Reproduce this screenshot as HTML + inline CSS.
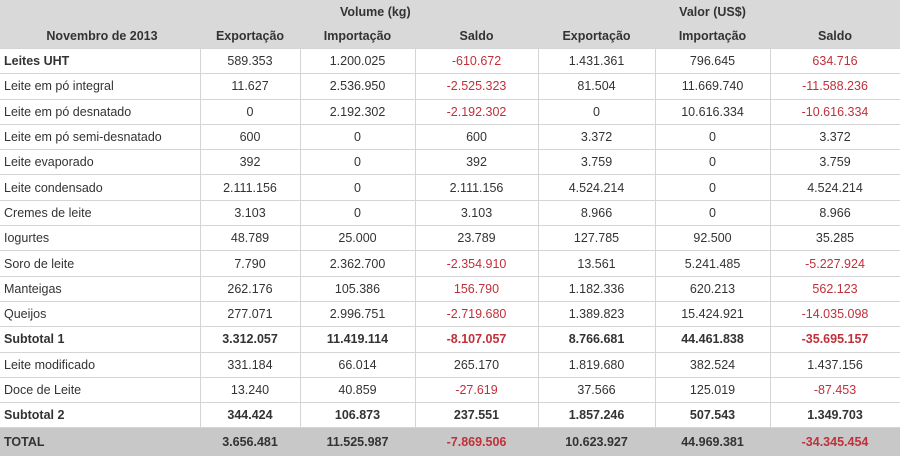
<!DOCTYPE html>
<html><head><meta charset="utf-8"><style>
body{margin:0;width:900px;height:457px;background:#fff;font-family:"Liberation Sans",sans-serif;font-size:12.5px;color:#333;overflow:hidden}
table{border-collapse:collapse;table-layout:fixed;width:900px}
td{height:24.3px;border:1px solid #d4d4d4;text-align:center;padding:0;white-space:nowrap}
td:first-child{text-align:left;padding-left:4px;border-left:none}
tr.h td{background:#d9d9d9;border:none;font-weight:bold;height:24px}
tr.b td{font-weight:bold}
tr.t td{background:#c8c8c8;font-weight:bold;height:28px;border:none}
.r{color:#c0303a}
</style></head><body>
<table>
<colgroup><col style="width:200px"><col style="width:100px"><col style="width:115px"><col style="width:123px"><col style="width:117px"><col style="width:115px"><col style="width:130px"></colgroup>
<tr class="h"><td></td><td></td><td colspan="2" style="text-align:left;padding-left:40px">Volume (kg)</td><td></td><td style="text-align:center">Valor (US$)</td><td></td></tr>
<tr class="h"><td style="text-align:center">Novembro de 2013</td><td>Exportação</td><td>Importação</td><td>Saldo</td><td>Exportação</td><td>Importação</td><td>Saldo</td></tr>
<tr class="b"><td>Leites UHT</td><td style="font-weight:normal">589.353</td><td style="font-weight:normal">1.200.025</td><td class="r" style="font-weight:normal">-610.672</td><td style="font-weight:normal">1.431.361</td><td style="font-weight:normal">796.645</td><td class="r" style="font-weight:normal">634.716</td></tr>
<tr><td>Leite em pó integral</td><td>11.627</td><td>2.536.950</td><td class="r">-2.525.323</td><td>81.504</td><td>11.669.740</td><td class="r">-11.588.236</td></tr>
<tr><td>Leite em pó desnatado</td><td>0</td><td>2.192.302</td><td class="r">-2.192.302</td><td>0</td><td>10.616.334</td><td class="r">-10.616.334</td></tr>
<tr><td>Leite em pó semi-desnatado</td><td>600</td><td>0</td><td>600</td><td>3.372</td><td>0</td><td>3.372</td></tr>
<tr><td>Leite evaporado</td><td>392</td><td>0</td><td>392</td><td>3.759</td><td>0</td><td>3.759</td></tr>
<tr><td>Leite condensado</td><td>2.111.156</td><td>0</td><td>2.111.156</td><td>4.524.214</td><td>0</td><td>4.524.214</td></tr>
<tr><td>Cremes de leite</td><td>3.103</td><td>0</td><td>3.103</td><td>8.966</td><td>0</td><td>8.966</td></tr>
<tr><td>Iogurtes</td><td>48.789</td><td>25.000</td><td>23.789</td><td>127.785</td><td>92.500</td><td>35.285</td></tr>
<tr><td>Soro de leite</td><td>7.790</td><td>2.362.700</td><td class="r">-2.354.910</td><td>13.561</td><td>5.241.485</td><td class="r">-5.227.924</td></tr>
<tr><td>Manteigas</td><td>262.176</td><td>105.386</td><td class="r">156.790</td><td>1.182.336</td><td>620.213</td><td class="r">562.123</td></tr>
<tr><td>Queijos</td><td>277.071</td><td>2.996.751</td><td class="r">-2.719.680</td><td>1.389.823</td><td>15.424.921</td><td class="r">-14.035.098</td></tr>
<tr class="b"><td>Subtotal 1</td><td>3.312.057</td><td>11.419.114</td><td class="r">-8.107.057</td><td>8.766.681</td><td>44.461.838</td><td class="r">-35.695.157</td></tr>
<tr><td>Leite modificado</td><td>331.184</td><td>66.014</td><td>265.170</td><td>1.819.680</td><td>382.524</td><td>1.437.156</td></tr>
<tr><td>Doce de Leite</td><td>13.240</td><td>40.859</td><td class="r">-27.619</td><td>37.566</td><td>125.019</td><td class="r">-87.453</td></tr>
<tr class="b"><td>Subtotal 2</td><td>344.424</td><td>106.873</td><td>237.551</td><td>1.857.246</td><td>507.543</td><td>1.349.703</td></tr>
<tr class="t"><td>TOTAL</td><td>3.656.481</td><td>11.525.987</td><td class="r">-7.869.506</td><td>10.623.927</td><td>44.969.381</td><td class="r">-34.345.454</td></tr>
</table>
</body></html>
